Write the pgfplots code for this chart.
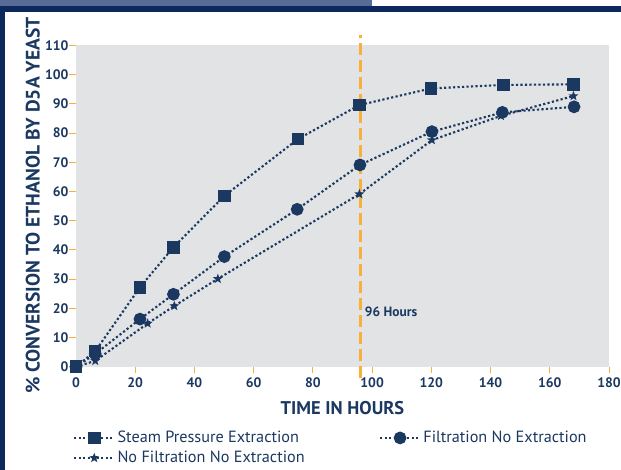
\documentclass[border=0pt]{standalone}
\usepackage{pgfplots}
\pgfplotsset{compat=1.18}
\usepackage{fontspec}
\setmainfont{PT Sans}

\definecolor{navy}{RGB}{27,56,96}
\definecolor{framenavy}{RGB}{12,40,92}
\definecolor{steel}{RGB}{88,108,152}
\definecolor{amber}{RGB}{246,176,60}
\definecolor{bggray}{RGB}{226,227,229}

% filled five-pointed star mark
\pgfdeclareplotmark{fstar}{%
  \pgfpathmoveto{\pgfpointpolar{90}{\pgfplotmarksize}}%
  \pgfpathlineto{\pgfpointpolar{126}{0.42\pgfplotmarksize}}%
  \pgfpathlineto{\pgfpointpolar{162}{\pgfplotmarksize}}%
  \pgfpathlineto{\pgfpointpolar{198}{0.42\pgfplotmarksize}}%
  \pgfpathlineto{\pgfpointpolar{234}{\pgfplotmarksize}}%
  \pgfpathlineto{\pgfpointpolar{270}{0.42\pgfplotmarksize}}%
  \pgfpathlineto{\pgfpointpolar{306}{\pgfplotmarksize}}%
  \pgfpathlineto{\pgfpointpolar{342}{0.42\pgfplotmarksize}}%
  \pgfpathlineto{\pgfpointpolar{18}{\pgfplotmarksize}}%
  \pgfpathlineto{\pgfpointpolar{54}{0.42\pgfplotmarksize}}%
  \pgfpathclose\pgfusepathqfill}

\begin{document}
\begin{tikzpicture}
\path[use as bounding box] (0,0) rectangle (621bp,470bp);
% frame bars
\fill[steel] (0,464bp) rectangle (372bp,470bp);
\fill[framenavy] (0,458bp) rectangle (621bp,464bp);
\fill[framenavy] (0,0) rectangle (5bp,464bp);

\begin{axis}[
    at={(76bp,103.3bp)}, anchor=south west,
    scale only axis,
    width=533bp, height=321.2bp,
    xmin=0, xmax=180,
    ymin=0, ymax=110,
    xtick={0,20,...,180},
    ytick={0,10,...,110},
    xtick pos=bottom, ytick pos=left,
    tick align=outside,
    major tick length=6.5bp,
    tick style={amber, line width=1bp},
    axis line style={draw=none},
    axis background/.style={fill=bggray},
    /pgf/number format/assume math mode=true,
    tick label style={font=\fontsize{13.8}{15}\selectfont\bfseries, text=navy},
    xticklabel style={yshift=-1bp},
    yticklabel style={xshift=2.5bp},
    xlabel={TIME IN HOURS},
    xlabel style={at={(axis description cs:0.5,0)}, anchor=center, yshift=-41bp,
        font=\fontsize{18.5}{20}\selectfont\bfseries, text=navy},
    ylabel={\% CONVERSION TO ETHANOL BY D5A YEAST},
    ylabel style={at={(axis description cs:-0.081,0.502)}, anchor=center,
        font=\fontsize{19.6}{21}\selectfont\bfseries, text=navy},
    clip=false,
    every axis plot/.append style={navy, line width=2.1bp, dash pattern=on 2.2bp off 2.3bp,
        mark options={solid}},
    legend columns=2,
    legend cell align=left,
    legend image code/.code={%
        \draw[mark repeat=2, mark phase=2] plot coordinates {(0bp,0bp) (20bp,0bp) (40bp,0bp)};},
    legend style={at={(-0.0056,-0.19)}, anchor=north west, draw=none, fill=none,
        inner sep=0pt, font=\fontsize{16.3}{19}\selectfont, text=navy,
        nodes={text height=12bp, text depth=3.5bp, inner sep=2.25bp},
        /tikz/every even column/.append style={column sep=72bp}},
]

\draw[amber, line width=3bp, dash pattern=on 12bp off 5bp] (axis cs:96,-4) -- (axis cs:96,113.5);
\node[anchor=west, font=\fontsize{13.5}{15}\selectfont\bfseries, text=navy] at (axis cs:96.4,18.7) {96 Hours};

\addplot[mark=square*, mark size=5.2bp] coordinates {
    (0,0) (6.5,5.3) (21.6,27.2) (32.9,40.9) (50.1,58.5) (75,78)
    (95.7,89.6) (119.9,95.3) (144.4,96.5) (168,96.7)
};
\addlegendentry{Steam Pressure Extraction}

\addplot[mark=*, mark size=5.3bp] coordinates {
    (0,0) (6.5,4.4) (21.6,16.3) (32.9,24.8) (50.1,37.7) (74.7,53.9)
    (95.9,69.1) (120.2,80.5) (144,87.1) (168.2,89)
};
\addlegendentry{Filtration No Extraction}

\addplot[mark=fstar, mark size=5.2bp] coordinates {
    (0,0) (6.5,2) (24.2,14.8) (33.2,20.8) (47.9,30.1)
    (95.7,59.1) (120.2,77.6) (143.5,85.9) (168,92.7)
};
\addlegendentry{No Filtration No Extraction}

\end{axis}
\end{tikzpicture}
\end{document}
